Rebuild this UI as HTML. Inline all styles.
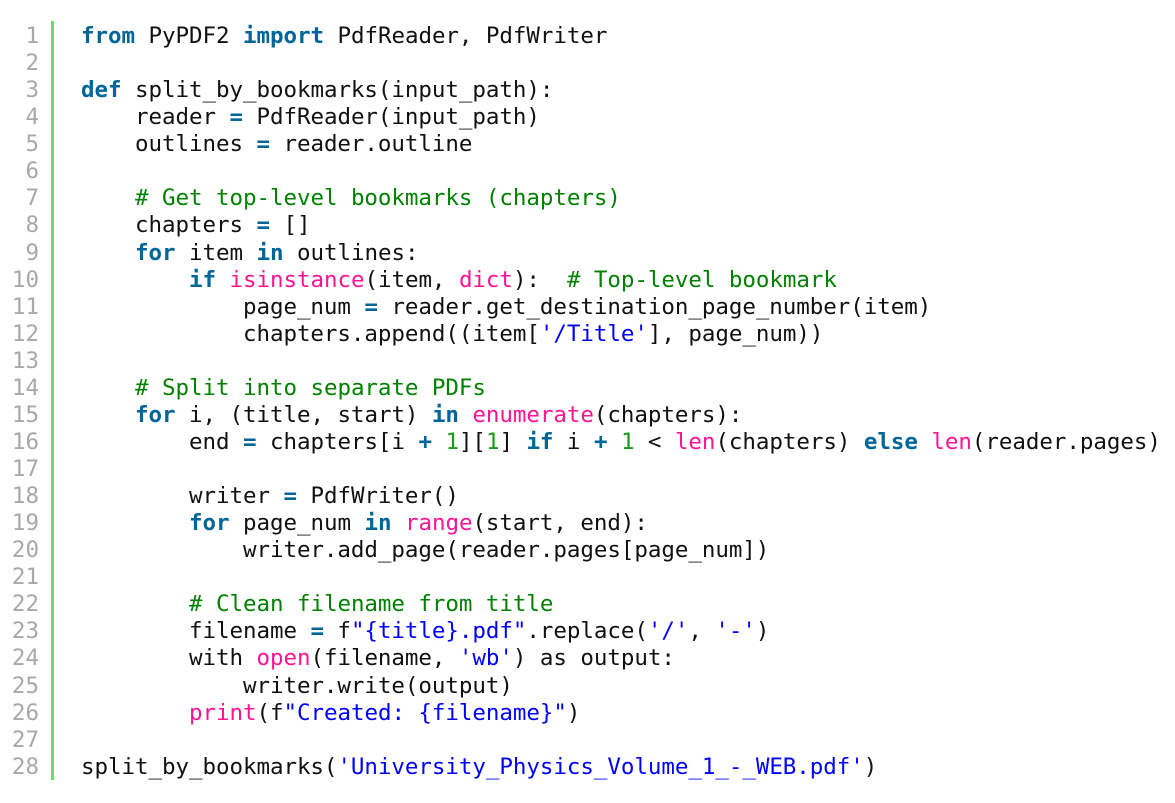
<!DOCTYPE html>
<html><head><meta charset="utf-8"><style>
html,body{margin:0;padding:0;background:#fff;width:1175px;height:803px;overflow:hidden}
.wrap{position:absolute;left:0;top:23px}
.bar{position:absolute;left:51px;top:21px;width:3px;height:759px;background:#6ddc6d}
pre{margin:0;font-family:"DejaVu Sans Mono","Liberation Mono",monospace;font-size:22.5px;line-height:27.07px;color:#111}
pre.code{position:absolute;left:81px;top:0;letter-spacing:-0.05px}
pre.nums{position:absolute;left:0;width:39px;text-align:right;color:#a8a8a8}
.k{color:#006699;font-weight:bold}
.s{color:#0000ff}
.b{color:#ff1493}
.c{color:#008200}
.n{color:#1a9a1a}
</style></head><body>
<div class="bar"></div>
<div class="wrap">
<pre class="nums">1
2
3
4
5
6
7
8
9
10
11
12
13
14
15
16
17
18
19
20
21
22
23
24
25
26
27
28</pre>
<pre class="code"><span class="k">from</span> PyPDF2 <span class="k">import</span> PdfReader, PdfWriter

<span class="k">def</span> split_by_bookmarks(input_path):
    reader <span class="k">=</span> PdfReader(input_path)
    outlines <span class="k">=</span> reader.outline

    <span class="c"># Get top-level bookmarks (chapters)</span>
    chapters <span class="k">=</span> []
    <span class="k">for</span> item <span class="k">in</span> outlines:
        <span class="k">if</span> <span class="b">isinstance</span>(item, <span class="b">dict</span>):  <span class="c"># Top-level bookmark</span>
            page_num <span class="k">=</span> reader.get_destination_page_number(item)
            chapters.append((item[<span class="s">'/Title'</span>], page_num))

    <span class="c"># Split into separate PDFs</span>
    <span class="k">for</span> i, (title, start) <span class="k">in</span> <span class="b">enumerate</span>(chapters):
        end <span class="k">=</span> chapters[i <span class="k">+</span> <span class="n">1</span>][<span class="n">1</span>] <span class="k">if</span> i <span class="k">+</span> <span class="n">1</span> &lt; <span class="b">len</span>(chapters) <span class="k">else</span> <span class="b">len</span>(reader.pages)

        writer <span class="k">=</span> PdfWriter()
        <span class="k">for</span> page_num <span class="k">in</span> <span class="b">range</span>(start, end):
            writer.add_page(reader.pages[page_num])

        <span class="c"># Clean filename from title</span>
        filename <span class="k">=</span> f<span class="s">"{title}.pdf"</span>.replace(<span class="s">'/'</span>, <span class="s">'-'</span>)
        with <span class="b">open</span>(filename, <span class="s">'wb'</span>) as output:
            writer.write(output)
        <span class="b">print</span>(f<span class="s">"Created: {filename}"</span>)

split_by_bookmarks(<span class="s">'University_Physics_Volume_1_-_WEB.pdf'</span>)</pre>
</div>
</body></html>
